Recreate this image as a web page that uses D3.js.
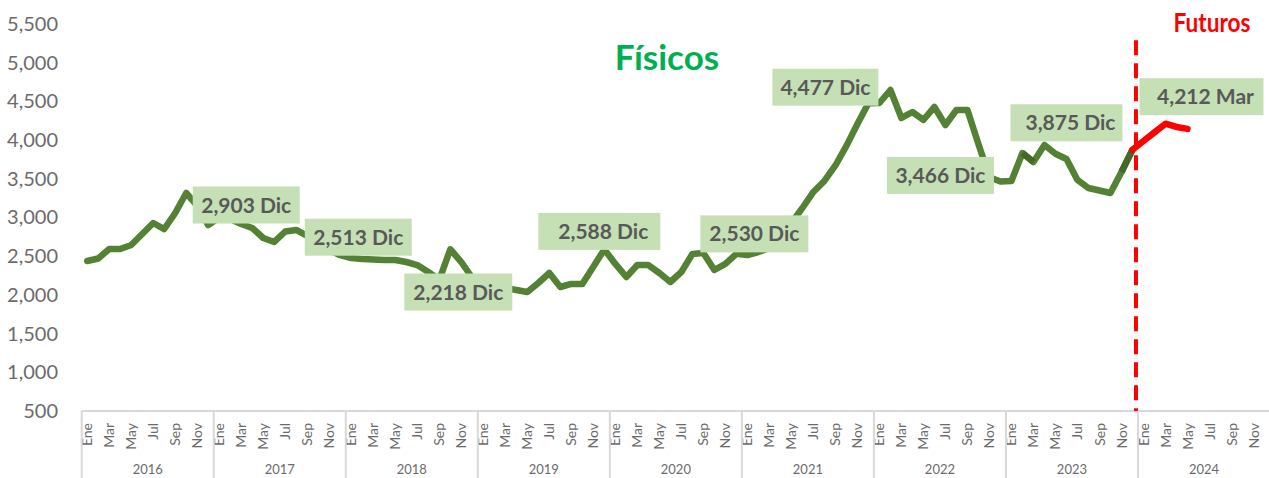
<!DOCTYPE html>
<html>
<head>
<meta charset="utf-8">
<script src="https://cdn.jsdelivr.net/npm/d3@7"></script>
<style>
  body { margin: 0; background: #fff; }
  svg { display: block; font-family: Lato, "Open Sans", sans-serif; }
</style>
</head>
<body>
<script>
// datos
var years = ["2016", "2017", "2018", "2019", "2020", "2021", "2022", "2023", "2024"];
var monthNames = ["Ene", "Feb", "Mar", "Abr", "May", "Jun", "Jul", "Ago", "Sep", "Oct", "Nov", "Dic"];

// físicos, ene 2016 - dic 2023
var fisicos = [
  2438, 2470, 2593, 2593, 2645, 2787, 2929, 2851, 3058, 3317, 3150, 2903,
  3000, 2980, 2916, 2864, 2735, 2684, 2819, 2839, 2761, 2670, 2580, 2513,
  2477, 2464, 2457, 2451, 2451, 2425, 2386, 2296, 2193, 2590, 2425, 2218,
  2154, 2115, 2090, 2063, 2037, 2154, 2283, 2102, 2141, 2141, 2365, 2588,
  2400, 2231, 2386, 2386, 2283, 2167, 2296, 2528, 2541, 2322, 2400, 2530,
  2515, 2554, 2606, 2700, 2930, 3123, 3330, 3472, 3672, 3925, 4208, 4477,
  4479, 4647, 4286, 4363, 4260, 4428, 4195, 4389, 4389, 3950, 3520, 3466,
  3472, 3833, 3717, 3937, 3823, 3756, 3485, 3381, 3349, 3317, 3588, 3875
];

// futuros, dic 2023 - may 2024
var futurosStart = 95;
var futuros = [3875, 3988, 4100, 4212, 4170, 4145];

// tramos oscuros superpuestos (indices)
var darkSegments = [[85, 86], [94, 95]];

// etiquetas
var labelIdx = [11, 23, 35, 47, 59, 71, 83, 95, 98];
var yTicks = [500, 1000, 1500, 2000, 2500, 3000, 3500, 4000, 4500, 5000, 5500];

var width = 1269, height = 478;
var mLeft = 81.7, mRight = 1270, mTop = 24, mBottom = 411;

var categories = [];
years.forEach(function(yr) {
  monthNames.forEach(function(m, j) { categories.push(yr + "-" + j); });
});

function valueAt(i) {
  if (i < fisicos.length) return fisicos[i];
  return futuros[i - futurosStart];
}

var svg = d3.select("body").append("svg")
  .attr("width", width)
  .attr("height", height);

var x = d3.scaleBand()
  .domain(categories)
  .range([mLeft, mRight])
  .padding(0);

function cx(i) { return x(categories[i]) + x.bandwidth() / 2; }

var xYear = d3.scaleBand()
  .domain(years)
  .range([mLeft, mRight]);

var y = d3.scaleLinear()
  .domain([500, 5500])
  .range([mBottom, mTop]);

// eje y
var yAxis = d3.axisLeft(y)
  .tickValues(yTicks)
  .tickSize(0)
  .tickPadding(mLeft - 58)
  .tickFormat(d3.format(","));

svg.append("g")
  .attr("transform", "translate(" + mLeft + ",0)")
  .call(yAxis)
  .call(function(g) { g.select(".domain").remove(); })
  .selectAll("text")
  .attr("font-family", "Lato, 'Open Sans', sans-serif")
  .attr("font-size", "20px")
  .attr("fill", "#6b6b6b");

// eje x: meses
var monthAxis = d3.axisBottom(x)
  .tickValues(categories.filter(function(c, i) { return i % 2 === 0; }))
  .tickSize(0)
  .tickFormat(function(c) { return monthNames[+c.split("-")[1]]; });

var gx = svg.append("g")
  .attr("transform", "translate(0," + mBottom + ")")
  .call(monthAxis);

gx.select(".domain").remove();
gx.selectAll("text")
  .attr("transform", "rotate(-90)")
  .attr("x", -12)
  .attr("y", 0)
  .attr("dy", "0.36em")
  .style("text-anchor", "end")
  .attr("font-family", "Lato, 'Open Sans', sans-serif")
  .attr("font-size", "14px")
  .attr("fill", "#6b6b6b");

// eje x: años
var yearAxis = d3.axisBottom(xYear).tickSize(0);
var gy = svg.append("g")
  .attr("transform", "translate(0," + mBottom + ")")
  .call(yearAxis);
gy.select(".domain").remove();
gy.selectAll("text")
  .attr("y", 59)
  .attr("dy", "0.32em")
  .attr("font-family", "Lato, 'Open Sans', sans-serif")
  .attr("font-size", "13px")
  .attr("fill", "#6b6b6b");

// linea base y separadores
svg.append("line")
  .attr("x1", mLeft).attr("x2", mRight)
  .attr("y1", mBottom).attr("y2", mBottom)
  .attr("stroke", "#d9d9d9")
  .attr("stroke-width", 2);

svg.selectAll(".sep")
  .data(years)
  .enter().append("line")
  .attr("class", "sep")
  .attr("x1", function(d) { return xYear(d); })
  .attr("x2", function(d) { return xYear(d); })
  .attr("y1", mBottom)
  .attr("y2", height)
  .attr("stroke", "#d9d9d9")
  .attr("stroke-width", 2);

// linea físicos
var line = d3.line()
  .x(function(d) { return cx(d[0]); })
  .y(function(d) { return y(d[1]); });

var fisData = fisicos.map(function(v, i) { return [i, v]; });
svg.append("path")
  .datum(fisData)
  .attr("d", line)
  .attr("fill", "none")
  .attr("stroke", "#548235")
  .attr("stroke-width", 6.5)
  .attr("stroke-linejoin", "round")
  .attr("stroke-linecap", "round");

svg.selectAll(".dark")
  .data(darkSegments)
  .enter().append("path")
  .attr("class", "dark")
  .attr("d", function(s) { return line([[s[0], valueAt(s[0])], [s[1], valueAt(s[1])]]); })
  .attr("fill", "none")
  .attr("stroke", "#3f6224")
  .attr("stroke-opacity", 0.8)
  .attr("stroke-width", 6.5)
  .attr("stroke-linecap", "butt");

// linea vertical
var xSplit = x(categories[96]) - 2;
svg.append("line")
  .attr("x1", xSplit).attr("x2", xSplit)
  .attr("y1", y(5290)).attr("y2", mBottom)
  .attr("stroke", "#ff0000")
  .attr("stroke-width", 4)
  .attr("stroke-dasharray", "15,8");

// linea futuros
var futData = futuros.map(function(v, i) { return [futurosStart + i, v]; });
svg.append("path")
  .datum(futData)
  .attr("d", line)
  .attr("fill", "none")
  .attr("stroke", "#ff0000")
  .attr("stroke-width", 6.5)
  .attr("stroke-linejoin", "round")
  .attr("stroke-linecap", "round");

// etiquetas de datos
var labelLayout = [
  { dx: 38, dy: -20, w: 107, tx: 0 },
  { dx: 18, dy: -18, w: 107, tx: 0 },
  { dx: -14, dy: 14, w: 108, tx: 0 },
  { dx: -5, dy: -18, w: 122, tx: 4 },
  { dx: 18, dy: -20, w: 108, tx: 0 },
  { dx: -43, dy: -16, w: 106, tx: 0 },
  { dx: -60, dy: -6, w: 107, tx: 0 },
  { dx: -66, dy: -27, w: 112, tx: 4 },
  { dx: 36, dy: -27, w: 124, tx: 4 }
];

var labels = svg.selectAll(".lbl")
  .data(labelIdx)
  .enter().append("g")
  .attr("class", "lbl")
  .attr("transform", function(d, i) {
    return "translate(" + (cx(d) + labelLayout[i].dx) + "," + (y(valueAt(d)) + labelLayout[i].dy) + ")";
  });

labels.append("rect")
  .attr("x", function(d, i) { return -labelLayout[i].w / 2; })
  .attr("y", -18.5)
  .attr("width", function(d, i) { return labelLayout[i].w; })
  .attr("height", 37)
  .attr("fill", "#c5e0b4");

labels.append("text")
  .attr("x", function(d, i) { return labelLayout[i].tx; })
  .attr("dy", "0.36em")
  .attr("text-anchor", "middle")
  .attr("font-family", "Lato, 'Open Sans', sans-serif")
  .attr("font-weight", "bold")
  .attr("font-size", "21px")
  .attr("fill", "#595959")
  .text(function(d) { return d3.format(",")(valueAt(d)) + " " + monthNames[d % 12]; });

// titulos
svg.append("text")
  .attr("x", 667)
  .attr("y", 70)
  .attr("text-anchor", "middle")
  .attr("font-family", "Lato, 'Open Sans', sans-serif")
  .attr("font-weight", "bold")
  .attr("font-size", "35px")
  .attr("fill", "#00b050")
  .text("Físicos");

svg.append("text")
  .attr("x", 1212)
  .attr("y", 32)
  .attr("text-anchor", "middle")
  .attr("font-family", "Lato, 'Open Sans', sans-serif")
  .attr("font-weight", "bold")
  .attr("font-size", "27px")
  .attr("textLength", 77)
  .attr("lengthAdjust", "spacingAndGlyphs")
  .attr("fill", "#ff0000")
  .text("Futuros");
</script>
</body>
</html>
